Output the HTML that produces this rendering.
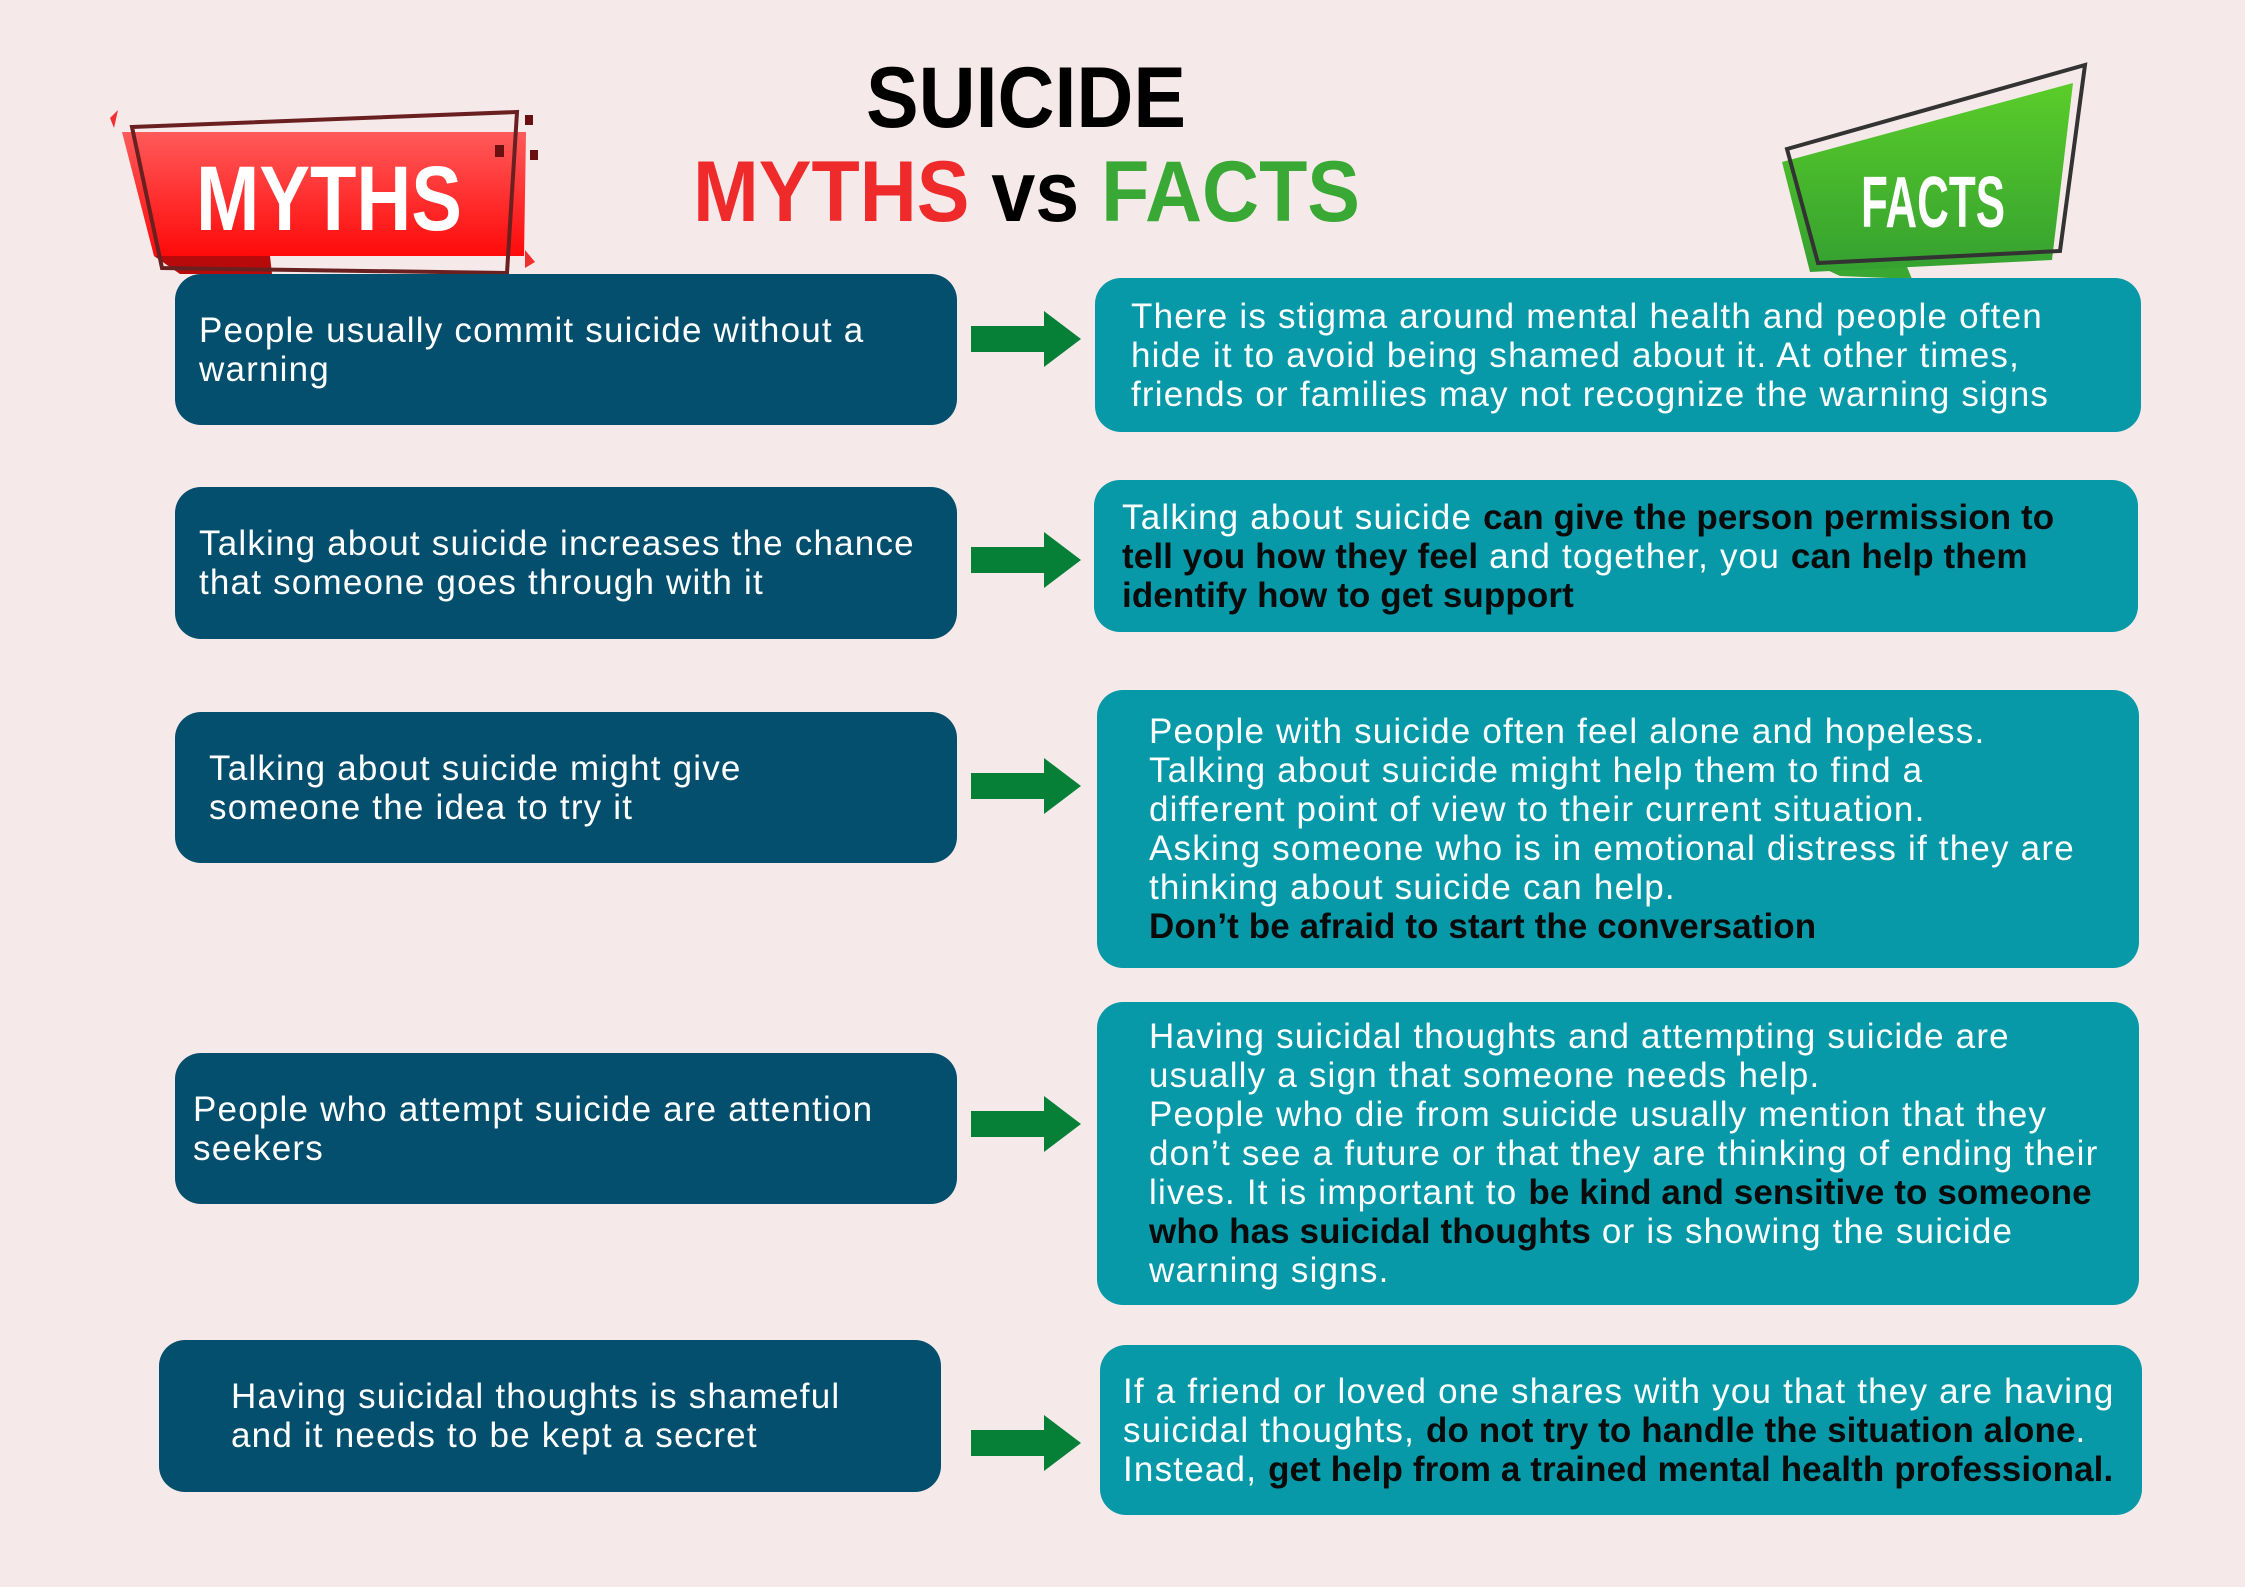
<!DOCTYPE html>
<html><head><meta charset="utf-8"><style>
body{margin:0;width:2245px;height:1587px;background:#f5e9e9;position:relative;overflow:hidden;font-family:"Liberation Sans",sans-serif}
.b{position:absolute;border-radius:26px;display:flex;align-items:center;box-sizing:border-box;color:#fff;font-size:35px;letter-spacing:1.2px;line-height:39px;white-space:nowrap}
.m{background:#044f6d;padding-left:24px}
.f{background:#0799a8;padding-left:36px}
.f b{color:#0a0a0a;letter-spacing:0.1px}
svg{position:absolute;left:0;top:0}
</style></head><body>
<svg width="2245" height="1587">
<defs>
<linearGradient id="rg" x1="0" y1="0" x2="0" y2="1"><stop offset="0" stop-color="#ff5a5a"/><stop offset="1" stop-color="#ff0a0a"/></linearGradient>
<linearGradient id="gg" x1="0" y1="0" x2="0" y2="1"><stop offset="0" stop-color="#5acd2a"/><stop offset="1" stop-color="#35a030"/></linearGradient>
</defs>
<polygon points="154,256 270,256 272,274 180,274" fill="#b80a0a"/>
<polygon points="122,132 526,132 524,256 154,256" fill="url(#rg)"/>
<polygon points="132,127 517,112 507,273 162,268" fill="none" stroke="#6a2020" stroke-width="4"/>
<rect x="495" y="145" width="9" height="12" fill="#6a1010"/><rect x="525" y="115" width="8" height="10" fill="#6a1010"/><rect x="530" y="150" width="8" height="10" fill="#6a1010"/>
<polygon points="110,118 118,110 114,128" fill="#f03030"/><polygon points="525,250 535,262 525,268" fill="#f03030"/>
<text x="196" y="230" fill="#fff" font-size="92" font-weight="bold" textLength="266" lengthAdjust="spacingAndGlyphs">MYTHS</text>
<polygon points="1810,262 1905,262 1912,279 1840,276" fill="#3aa830"/>
<polygon points="1782,162 2073,83 2052,260 1810,272" fill="url(#gg)"/>
<polygon points="1787,149 2085,65 2060,251 1818,263" fill="none" stroke="#333" stroke-width="4"/>
<text x="1861" y="227" fill="#fff" font-size="72" font-weight="bold" textLength="144" lengthAdjust="spacingAndGlyphs">FACTS</text>
<text x="866" y="127" fill="#000" font-size="86" font-weight="bold" textLength="320" lengthAdjust="spacingAndGlyphs">SUICIDE</text>
<text x="693" y="221" font-size="86" font-weight="bold" textLength="667" lengthAdjust="spacingAndGlyphs"><tspan fill="#ee2a2a">MYTHS </tspan><tspan fill="#000">vs </tspan><tspan fill="#3aa834">FACTS</tspan></text>
<g fill="#068037">
<polygon points="971,326 1044,326 1044,311 1081,339 1044,367 1044,352 971,352"/>
<polygon points="971,547 1044,547 1044,532 1081,560 1044,588 1044,573 971,573"/>
<polygon points="971,773 1044,773 1044,758 1081,786 1044,814 1044,799 971,799"/>
<polygon points="971,1111 1044,1111 1044,1096 1081,1124 1044,1152 1044,1137 971,1137"/>
<polygon points="971,1430 1044,1430 1044,1415 1081,1443 1044,1471 1044,1456 971,1456"/>
</g>
</svg>
<div class="b m" style="left:175px;top:274px;width:782px;height:151px"><div>People usually commit suicide without a<br>warning</div></div>
<div class="b f" style="left:1095px;top:278px;width:1046px;height:154px"><div>There is stigma around mental health and people often<br>hide it to avoid being shamed about it. At other times,<br>friends or families may not recognize the warning signs</div></div>
<div class="b m" style="left:175px;top:487px;width:782px;height:152px"><div>Talking about suicide increases the chance<br>that someone goes through with it</div></div>
<div class="b f" style="left:1094px;top:480px;width:1044px;height:152px;padding-left:28px"><div>Talking about suicide <b>can give the person permission to</b><br><b>tell you how they feel</b> and together, you <b>can help them</b><br><b>identify how to get support</b></div></div>
<div class="b m" style="left:175px;top:712px;width:782px;height:151px;padding-left:34px"><div>Talking about suicide might give<br>someone the idea to try it</div></div>
<div class="b f" style="left:1097px;top:690px;width:1042px;height:278px;padding-left:52px"><div>People with suicide often feel alone and hopeless.<br>Talking about suicide might help them to find a<br>different point of view to their current situation.<br>Asking someone who is in emotional distress if they are<br>thinking about suicide can help.<br><b>Don’t be afraid to start the conversation</b></div></div>
<div class="b m" style="left:175px;top:1053px;width:782px;height:151px;padding-left:18px"><div>People who attempt suicide are attention<br>seekers</div></div>
<div class="b f" style="left:1097px;top:1002px;width:1042px;height:303px;padding-left:52px"><div>Having suicidal thoughts and attempting suicide are<br>usually a sign that someone needs help.<br>People who die from suicide usually mention that they<br>don’t see a future or that they are thinking of ending their<br>lives. It is important to <b>be kind and sensitive to someone</b><br><b>who has suicidal thoughts</b> or is showing the suicide<br>warning signs.</div></div>
<div class="b m" style="left:159px;top:1340px;width:782px;height:152px;padding-left:72px"><div>Having suicidal thoughts is shameful<br>and it needs to be kept a secret</div></div>
<div class="b f" style="left:1100px;top:1345px;width:1042px;height:170px;padding-left:23px"><div>If a friend or loved one shares with you that they are having<br>suicidal thoughts, <b>do not try to handle the situation alone</b>.<br>Instead, <b>get help from a trained mental health professional.</b></div></div>
</body></html>
